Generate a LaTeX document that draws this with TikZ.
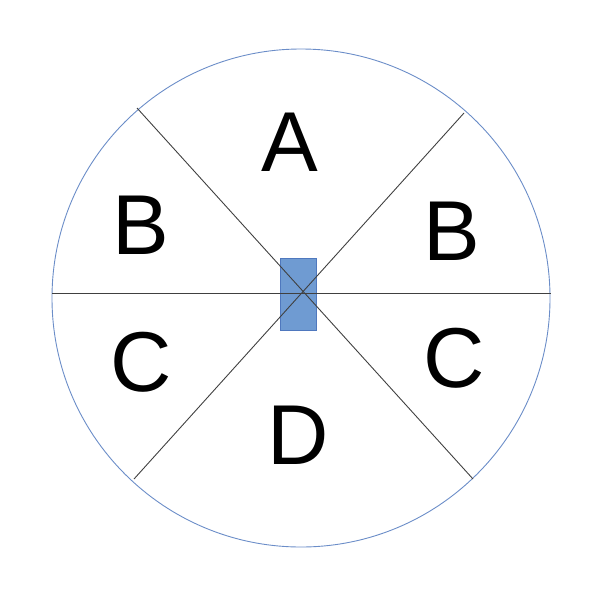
\documentclass[tikz,border=0pt]{standalone}
\usepackage{fontspec}
\setmainfont{Liberation Sans}
\definecolor{rimblue}{HTML}{6B8DC8}
\definecolor{boxblue}{HTML}{6F9BD2}
\definecolor{boxedge}{HTML}{4F78BE}
\tikzset{
    spoke/.style={draw=black!75, line width=0.9pt},
    sector/.style={font=\fontsize{85}{100}\selectfont, inner sep=0pt}
}

\begin{document}
\begin{tikzpicture}[x=1pt, y=-1pt]
        \useasboundingbox (0,0) rectangle (604,600);
        \draw [rimblue, line width=0.9pt] (301,298) circle (249);
        \node [draw=boxedge, fill=boxblue, line width=0.8pt,
            minimum width=36pt, minimum height=72pt, inner sep=0pt] (hub) at (298,294) {};
        \coordinate (w) at (52,293);
        \coordinate (e) at (551,293);
        \coordinate (nw) at (137,108);
        \coordinate (se) at (473,479);
        \coordinate (ne) at (464,113);
        \coordinate (sw) at (134,479);
        \draw [spoke] (w) -- (e);
        \draw [spoke] (nw) -- (se);
        \draw [spoke] (ne) -- (sw);
        \node [sector] (a) at (290,142) {A};
        \node [sector] (bl) at (141,225) {B};
        \node [sector] (br) at (452,231) {B};
        \node [sector] (cl) at (141,362) {C};
        \node [sector] (cr) at (454,358) {C};
        \node [sector] (d) at (298,435) {D};
    \end{tikzpicture}
\end{document}
